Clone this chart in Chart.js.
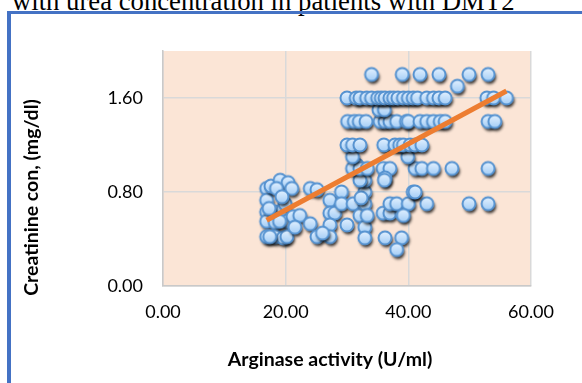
<!DOCTYPE html>
<html>
<head>
<meta charset="utf-8">
<script src="https://cdn.jsdelivr.net/npm/chart.js@4/dist/chart.umd.min.js"></script>
<style>
  html, body { margin: 0; padding: 0; background: #fff; width: 582px; height: 383px; overflow: hidden; }
  #caption { position: absolute; left: 12px; top: -12px; font: 26.7px "Liberation Serif", "Times New Roman", serif; line-height: 26px; white-space: nowrap; color: #000; }
  #frame { position: absolute; left: 7px; top: 11px; width: 620px; height: 420px; border-left: 4px solid #4472C4; border-top: 3px solid #4472C4; }
  #chart { position: absolute; left: 0; top: 0; }
</style>
</head>
<body>
<div id="caption">with urea concentration in patients with DMT2</div>
<div id="frame"></div>
<canvas id="chart" width="582" height="383"></canvas>
<script>
// Arginase activity (U/ml) and creatinine (mg/dl) per patient
const arginase = [
  16.9, 16.9, 16.9, 16.9, 16.9, 17.6, 18.3, 18.3, 18.3, 19.1, 19.6, 19.6, 20.4, 20.2, 19.9, 18.5, 17.4, 21.0, 21.2, 20.2, 19.4, 17.3, 19.0,
  22.3, 24.0, 25.1, 24.0, 25.1, 27.2, 29.1, 27.2, 28.0, 29.1, 27.2, 27.2, 30.0, 31.0, 32.1, 32.9, 32.9, 32.9, 32.9, 33.3, 32.3, 21.5, 26.0,
  35.9, 37.0, 36.2, 35.9, 37.0, 38.9, 37.0, 38.1, 40.0, 40.8, 36.2, 38.9, 38.1, 31.6, 32.9, 32.1, 36.1, 43.0, 49.9, 53.0, 41.1, 39.2,
  30.9, 32.1, 33.3, 41.1, 42.2, 44.1, 47.1, 53.0,
  30.9, 39.9,
  30.0, 30.9, 32.1, 36.0, 37.8, 38.6, 39.2, 40.3, 41.1, 42.2,
  30.1, 31.2, 32.0, 33.1, 35.4, 36.2, 37.0, 38.1, 39.7, 40.0, 41.9, 43.0, 44.1, 45.2, 46.0, 53.0, 54.1,
  35.2, 36.1,
  30.0, 31.5, 32.1, 33.2, 34.0, 35.0, 35.6, 36.2, 37.0, 37.6, 38.3, 39.2, 40.0, 40.8, 41.5, 43.0, 44.1, 45.0, 46.0, 52.8, 53.9, 56.0,
  48.0,
  34.0, 39.0, 41.9, 45.0, 49.9, 53.0
];
const creatinine = [
  0.83, 0.73, 0.63, 0.55, 0.42, 0.85, 0.63, 0.54, 0.42, 0.90, 0.41, 0.65, 0.88, 0.55, 0.70, 0.83, 0.42, 0.83, 0.59, 0.42, 0.76, 0.66, 0.55,
  0.60, 0.83, 0.82, 0.53, 0.42, 0.73, 0.80, 0.62, 0.62, 0.70, 0.52, 0.42, 0.52, 0.70, 0.60, 0.80, 0.70, 0.50, 0.41, 0.60, 0.75, 0.50, 0.45,
  1.00, 1.00, 0.92, 0.62, 0.62, 0.62, 0.70, 0.70, 0.70, 0.80, 0.41, 0.41, 0.31, 1.03, 0.90, 0.90, 0.90, 0.70, 0.70, 0.70, 0.80, 0.60,
  1.00, 1.00, 1.00, 1.00, 1.00, 1.00, 1.00, 1.00,
  1.10, 1.10,
  1.20, 1.20, 1.20, 1.20, 1.20, 1.20, 1.20, 1.20, 1.20, 1.20,
  1.40, 1.40, 1.40, 1.40, 1.40, 1.40, 1.40, 1.40, 1.40, 1.40, 1.40, 1.40, 1.40, 1.40, 1.40, 1.40, 1.40,
  1.50, 1.50,
  1.60, 1.60, 1.60, 1.60, 1.60, 1.60, 1.60, 1.60, 1.60, 1.60, 1.60, 1.60, 1.60, 1.60, 1.60, 1.60, 1.60, 1.60, 1.60, 1.60, 1.60, 1.60,
  1.70,
  1.80, 1.80, 1.80, 1.80, 1.80, 1.80
];

// Linear trend line end points
const trendX = [16.9, 56.0];
const trendY = [0.56, 1.66];

const xTicks = [0, 20, 40, 60];
const yTicks = [0, 0.8, 1.6];
const xTitle = 'Arginase activity (U/ml)';
const yTitle = 'Creatinine con, (mg/dl)';

// Marker: light-blue gradient disc with blue rim and a soft drop shadow
function makeMarker() {
  const c = document.createElement('canvas');
  c.width = 26; c.height = 26;
  const g = c.getContext('2d');
  const cx = 13, cy = 13, r = 6.5;
  g.save();
  g.shadowColor = 'rgba(0,0,0,0.8)';
  g.shadowBlur = 3;
  g.shadowOffsetX = 1.5;
  g.shadowOffsetY = 3;
  const grad = g.createLinearGradient(0, cy - r, 0, cy + r);
  grad.addColorStop(0, '#E3F1FF');
  grad.addColorStop(1, '#A3CDF6');
  g.beginPath(); g.arc(cx, cy, r, 0, Math.PI * 2);
  g.fillStyle = grad; g.fill();
  g.restore();
  g.beginPath(); g.arc(cx, cy, r, 0, Math.PI * 2);
  g.lineWidth = 2; g.strokeStyle = '#5592D0'; g.stroke();
  return c;
}

const plotBackground = {
  id: 'plotBackground',
  beforeDraw(chart) {
    const { ctx, chartArea: a } = chart;
    ctx.save();
    ctx.fillStyle = '#FBE5D6';
    ctx.fillRect(a.left, a.top, a.right - a.left, a.bottom - a.top);
    ctx.restore();
  }
};

const axisTitles = {
  id: 'axisTitles',
  afterDraw(chart) {
    const { ctx, chartArea: a } = chart;
    ctx.save();
    ctx.fillStyle = '#000';
    ctx.font = 'bold 19.5px Lato';
    ctx.textAlign = 'center';
    ctx.textBaseline = 'alphabetic';
    ctx.fillText(xTitle, a.left + 167, a.bottom + 79.5);
    ctx.translate(a.left - 125.5, a.top + 146.5);
    ctx.rotate(-Math.PI / 2);
    ctx.fillText(yTitle, 0, 0);
    ctx.restore();
  }
};

const points = arginase.map((x, i) => ({ x, y: creatinine[i] }));
const trend = trendX.map((x, i) => ({ x, y: trendY[i] }));
const tickFont = { family: 'Lato', size: 18 };

new Chart(document.getElementById('chart'), {
  type: 'scatter',
  data: {
    datasets: [
      {
        type: 'line',
        data: trend,
        borderColor: '#ED7D31',
        borderWidth: 5,
        pointRadius: 0,
        fill: false,
        order: 0
      },
      {
        data: points,
        pointStyle: makeMarker(),
        pointRadius: 7,
        order: 1
      }
    ]
  },
  options: {
    responsive: false,
    animation: false,
    devicePixelRatio: 1,
    layout: { padding: { left: 0, top: 51, right: 51, bottom: 0 } },
    plugins: { legend: { display: false }, tooltip: { enabled: false } },
    scales: {
      x: {
        type: 'linear',
        min: 0, max: 60,
        afterBuildTicks: s => { s.ticks = xTicks.map(v => ({ value: v })); },
        afterFit: s => { s.height = 97; },
        ticks: { font: tickFont, color: '#000', padding: 15, callback: v => v.toFixed(2), maxRotation: 0 },
        grid: { color: '#D9D9D9', lineWidth: 1.5, drawTicks: false },
        border: { color: '#C9C9C9', width: 1.5 }
      },
      y: {
        type: 'linear',
        min: 0, max: 2,
        afterBuildTicks: s => { s.ticks = yTicks.map(v => ({ value: v })); },
        afterFit: s => { s.width = 163; },
        ticks: { font: tickFont, color: '#000', padding: 20, callback: v => v.toFixed(2) },
        grid: { color: '#D9D9D9', lineWidth: 1.5, drawTicks: false },
        border: { color: '#C9C9C9', width: 1.5 }
      }
    }
  },
  plugins: [plotBackground, axisTitles]
});
</script>
</body>
</html>
